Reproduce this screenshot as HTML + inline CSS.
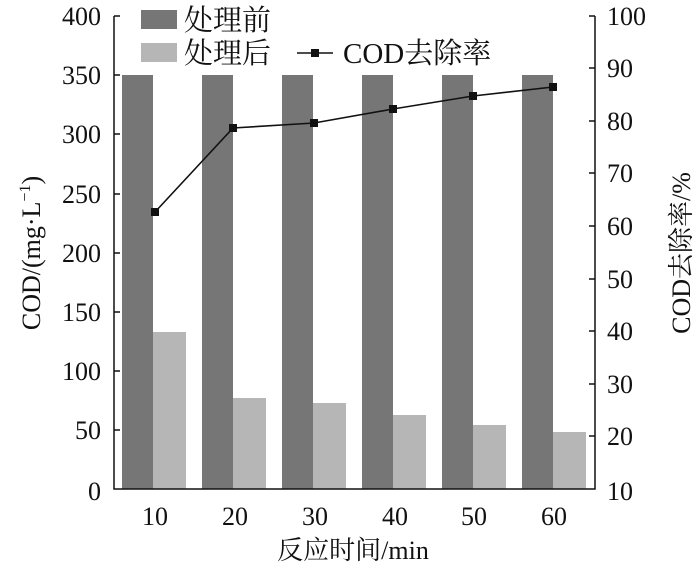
<!DOCTYPE html><html><head><style>body{margin:0;background:#fff}</style></head><body>
<svg width="700" height="570" xmlns="http://www.w3.org/2000/svg" font-family="Liberation Serif, Noto Serif CJK SC, serif" font-size="26" fill="#111">
<rect width="700" height="570" fill="#fff"/>
<g id="bars">
<rect x="122" y="75" width="31" height="414" fill="#767676"/><rect x="153" y="332" width="33" height="157" fill="#b6b6b6"/>
<rect x="202" y="75" width="31" height="414" fill="#767676"/><rect x="233" y="398" width="33" height="91" fill="#b6b6b6"/>
<rect x="282" y="75" width="31" height="414" fill="#767676"/><rect x="313" y="403" width="33" height="86" fill="#b6b6b6"/>
<rect x="362" y="75" width="31" height="414" fill="#767676"/><rect x="393" y="415" width="33" height="74" fill="#b6b6b6"/>
<rect x="442" y="75" width="31" height="414" fill="#767676"/><rect x="473" y="425" width="33" height="64" fill="#b6b6b6"/>
<rect x="522" y="75" width="31" height="414" fill="#767676"/><rect x="553" y="432" width="33" height="57" fill="#b6b6b6"/>
</g>
<polyline points="155,212 233,128 314,123 393,109 473,96 553,87" fill="none" stroke="#111" stroke-width="1.6"/>
<g fill="#111"><rect x="151" y="208" width="8" height="8"/><rect x="229" y="124" width="8" height="8"/><rect x="310" y="119" width="8" height="8"/><rect x="389" y="105" width="8" height="8"/><rect x="469" y="92" width="8" height="8"/><rect x="549" y="83" width="8" height="8"/></g>
<g stroke="#111" stroke-width="1.5" fill="none">
<polyline points="114,16 114,489 595,489 595,16"/>
<path d="M114,16h6M114,75h6M114,134h6M114,194h6M114,253h6M114,312h6M114,371h6M114,430h6M595,16h-6M595,68h-6M595,121h-6M595,173h-6M595,226h-6M595,279h-6M595,331h-6M595,384h-6M595,436h-6"/>
</g>
<g text-anchor="end">
<text x="101" y="25">400</text><text x="101" y="84">350</text><text x="101" y="143">300</text><text x="101" y="203">250</text><text x="101" y="262">200</text><text x="101" y="321">150</text><text x="101" y="380">100</text><text x="101" y="439">50</text><text x="101" y="500">0</text>
</g>
<g>
<text x="607" y="25">100</text><text x="607" y="77">90</text><text x="607" y="130">80</text><text x="607" y="182">70</text><text x="607" y="235">60</text><text x="607" y="288">50</text><text x="607" y="340">40</text><text x="607" y="393">30</text><text x="607" y="445">20</text><text x="607" y="500">10</text>
</g>
<g text-anchor="middle">
<text x="155" y="525">10</text><text x="235" y="525">20</text><text x="315" y="525">30</text><text x="395" y="525">40</text><text x="474" y="525">50</text><text x="554" y="525">60</text>
<text x="353" y="559">反应时间/min</text>
</g>
<text transform="translate(40,253) rotate(-90)" text-anchor="middle">COD/(mg·L<tspan dy="-10" font-size="16">−1</tspan><tspan dy="10">)</tspan></text>
<text transform="translate(690,253) rotate(-90)" text-anchor="middle">COD去除率/%</text>
<rect x="141" y="10" width="36" height="19" fill="#767676"/>
<rect x="141" y="43" width="36" height="19" fill="#b6b6b6"/>
<text x="184" y="30" font-size="29">处理前</text>
<text x="184" y="63" font-size="29">处理后</text>
<line x1="297" y1="53" x2="333" y2="53" stroke="#111" stroke-width="1.6"/>
<rect x="311" y="49" width="8" height="8" fill="#111"/>
<text x="343" y="63" font-size="29">COD去除率</text>
</svg>
</body></html>
